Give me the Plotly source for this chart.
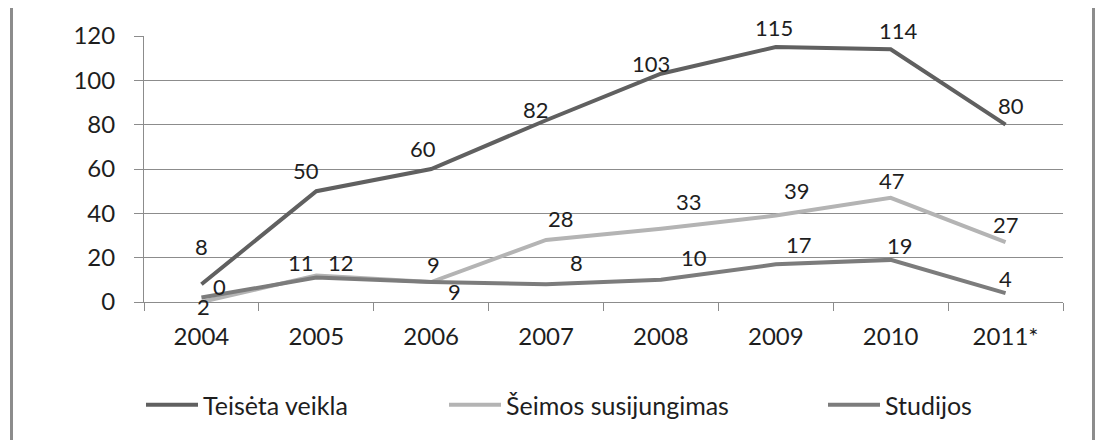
import plotly.graph_objects as go

# chart data
years = ["2004", "2005", "2006", "2007", "2008", "2009", "2010", "2011*"]
teiseta = [8, 50, 60, 82, 103, 115, 114, 80]
seimos = [0, 12, 9, 28, 33, 39, 47, 27]
studijos = [2, 11, 9, 8, 10, 17, 19, 4]

names = ["Teisėta veikla", "Šeimos susijungimas", "Studijos"]
colors = ["#606060", "#b4b4b4", "#7c7c7c"]

# where each value label sits relative to its point (px right, px down)
label_offsets = [
    [(0, -38), (-10, -21), (-8, -21), (-10, -11), (-10, -10), (-2, -20), (8, -19), (5, -19)],
    [(18, -16), (25, -13), (2, -18), (15, -21), (28, -27), (21, -25), (1, -17), (0, -18)],
    [(2, 9), (-15, -15), (23, 9), (30, -22), (33, -22), (23, -20), (9, -14), (0, -15)],
]

FONT = "Lato"
fig = go.Figure()
annotations = []
series = [teiseta, seimos, studijos]
legends = ["legend", "legend2", "legend3"]
for vals, name, col, offs, lg in zip(series, names, colors, label_offsets, legends):
    fig.add_trace(go.Scatter(x=years, y=vals, mode="lines", name=name,
                             line=dict(color=col, width=4), legend=lg))
    # category axis: annotate by category index (years look numeric)
    for i, (v, (dx, dy)) in enumerate(zip(vals, offs)):
        annotations.append(dict(x=i, y=v, text=str(v), showarrow=False,
                                xshift=dx, yshift=-dy,
                                font=dict(family=FONT, size=22, color="#1e1e1e")))

# the page body has an 8px margin, so the figure is drawn 8px smaller
PL, PW, PB, PH = 144, 919, 302, 273.5  # plot area in page pixels


def legend_at(px):
    # px = left pixel of the legend line on the page
    return dict(x=(px - 5 - PL) / PW, y=(PB - 408) / PH, xanchor="left", yanchor="middle",
                orientation="h", font=dict(family=FONT, size=25, color="#1e1e1e"),
                itemwidth=52, bgcolor="rgba(0,0,0,0)")


fig.update_layout(
    width=1103, height=432,
    margin=dict(l=136, r=48, t=20.5, b=138),
    paper_bgcolor="white", plot_bgcolor="white",
    font=dict(family=FONT, size=24, color="#1e1e1e"),
    annotations=annotations,
    showlegend=True,
    legend=legend_at(146),
    legend2=legend_at(449),
    legend3=legend_at(828),
    xaxis=dict(type="category", range=[-0.5, 7.5], showgrid=False,
               showline=True, linecolor="#8c8c8c", linewidth=1,
               ticks="outside", tickson="boundaries", ticklen=8, tickcolor="#8c8c8c",
               ticklabelstandoff=13, fixedrange=True),
    yaxis=dict(range=[0, 120], dtick=20, showgrid=True, gridcolor="#8c8c8c", gridwidth=1,
               showline=True, linecolor="#8c8c8c", linewidth=1, zeroline=False,
               ticks="outside", ticklen=9, tickcolor="#8c8c8c", ticklabelstandoff=14,
               fixedrange=True),
    shapes=[dict(type="rect", xref="paper", yref="paper",
                 x0=(11.5 - PL) / PW, x1=(1093.5 - PL) / PW, y0=-0.8, y1=1.4,
                 line=dict(color="#8c8c8c", width=3), layer="below")],
)

fig.write_html("out.html")
